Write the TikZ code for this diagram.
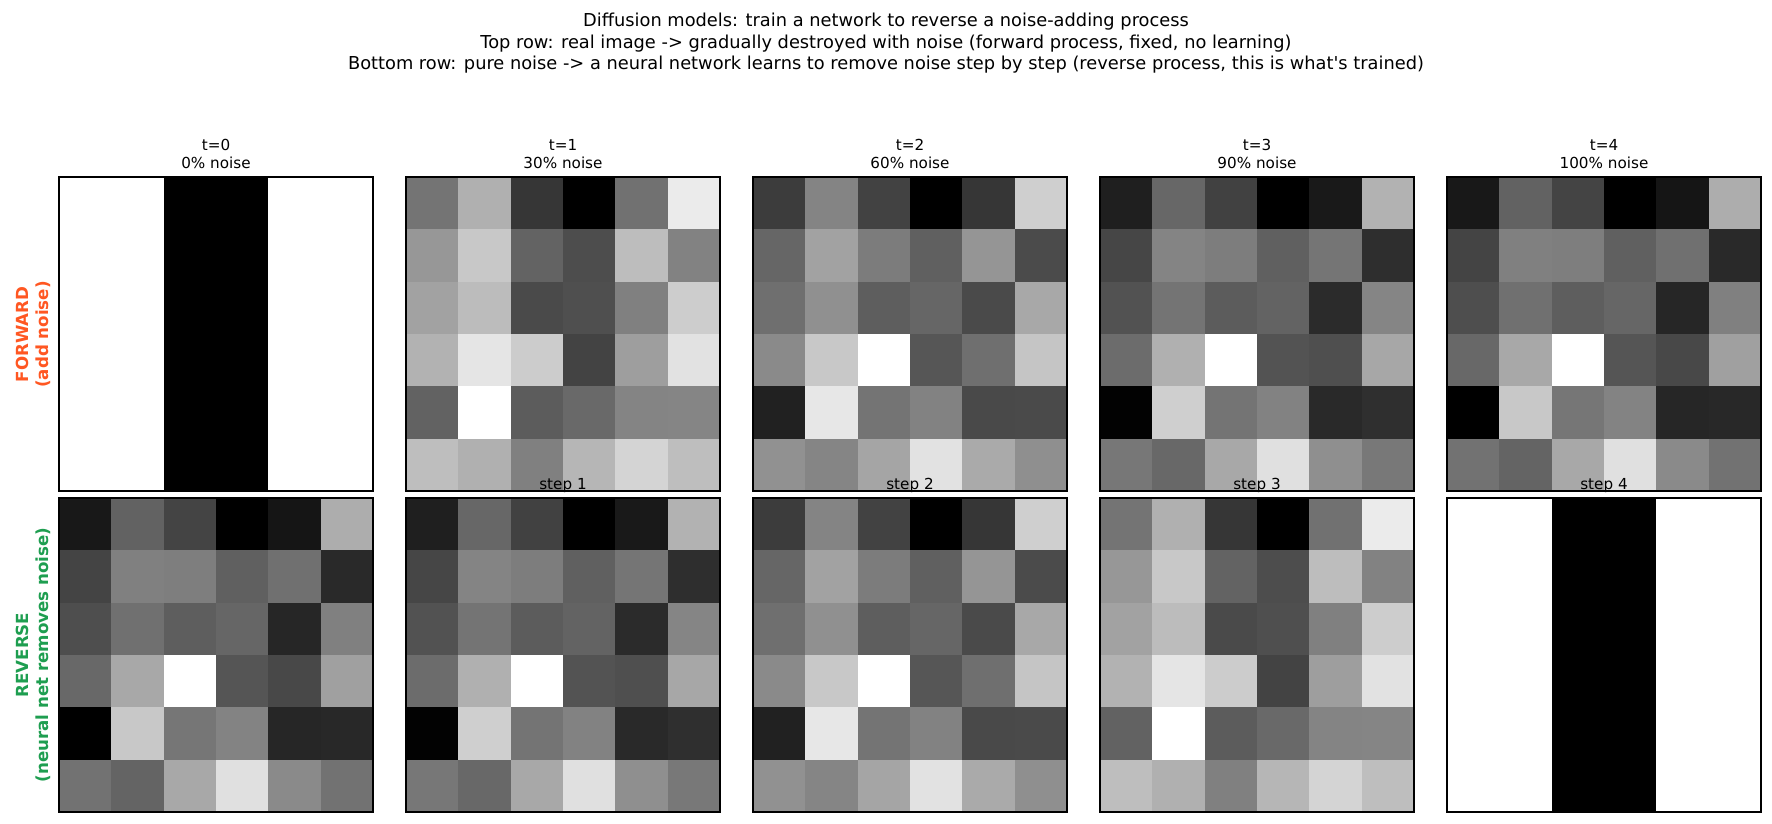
\documentclass[tikz,border=0pt]{standalone}
\usepackage{fontspec}
\setmainfont{DejaVu Sans}
\definecolor{fwd}{HTML}{FF5722}
\definecolor{rev}{HTML}{1E9E50}
\tikzset{
  frame/.style={draw=black, line width=1.1pt},
  suptitle/.style={font=\fontsize{17.8}{21.4}\selectfont, inner sep=0, anchor=base},
  ptitle/.style={font=\fontsize{15.2}{18.2}\selectfont, inner sep=0, align=center},
  rowlabel/.style={font=\fontsize{16.67}{20}\selectfont\bfseries, inner sep=0, align=center, rotate=90},
}
\newcommand\gridpanel[3]{%
  \foreach \v [count=\i from 0] in #3 {%
    \pgfmathtruncatemacro\cc{mod(\i,6)}%
    \pgfmathtruncatemacro\rr{div(\i,6)}%
    \fill[fill={rgb,255:red,\v;green,\v;blue,\v}] ({#1+\cc*52.3333},{#2+\rr*52.3333}) rectangle ++(52.9,52.9);
  }%
  \draw[frame] (#1,#2) rectangle ++(314,314);
}
\newcommand\cleanpanel[2]{%
  \fill[white] (#1,#2) rectangle ++(314,314);
  \fill[black] ({#1+104.667},#2) rectangle ++(104.667,314);
  \draw[frame] (#1,#2) rectangle ++(314,314);
}
\def\gA{116,176,54,0,113,235,151,200,99,77,189,130,162,188,74,79,128,205,178,229,204,67,158,226,98,255,92,105,132,133,190,176,128,182,212,190}
\def\gB{60,132,66,0,54,207,102,162,124,96,149,75,111,144,94,102,74,168,138,200,255,86,111,197,33,231,116,130,73,74,145,133,165,226,170,143}
\def\gC{31,103,65,0,25,178,70,132,125,96,117,46,82,116,92,99,43,133,108,176,255,83,79,167,2,207,116,130,41,47,119,104,168,224,143,120}
\def\gD{24,98,68,0,21,173,68,128,126,96,112,41,78,112,94,102,38,128,104,168,255,85,72,160,0,200,118,131,38,40,114,100,168,224,138,114}
\begin{document}
\begin{tikzpicture}[x=1pt,y=-1pt]
\useasboundingbox (0,0) rectangle (1772,824);
\fill[white] (0,0) rectangle (1772,824);
% super title
\node[suptitle] (sup1) at (886,27) {Diffusion models: train a network to reverse a noise-adding process};
\node[suptitle] (sup2) at (886,48.4) {Top row: real image -> gradually destroyed with noise (forward process, fixed, no learning)};
\node[suptitle] (sup3) at (886,69.8) {Bottom row: pure noise -> a neural network learns to remove noise step by step (reverse process, this is what\textquotesingle s trained)};
% top row
\cleanpanel{59}{177}
\gridpanel{406}{177}{\gA}
\gridpanel{753}{177}{\gB}
\gridpanel{1100}{177}{\gC}
\gridpanel{1447}{177}{\gD}
% bottom row
\gridpanel{59}{498}{\gD}
\gridpanel{406}{498}{\gC}
\gridpanel{753}{498}{\gB}
\gridpanel{1100}{498}{\gA}
\cleanpanel{1447}{498}
% panel titles
\node[ptitle, anchor=south] (tt0) at (216,169) {t=0\\0\% noise};
\node[ptitle, anchor=south] (tt1) at (563,169) {t=1\\30\% noise};
\node[ptitle, anchor=south] (tt2) at (910,169) {t=2\\60\% noise};
\node[ptitle, anchor=south] (tt3) at (1257,169) {t=3\\90\% noise};
\node[ptitle, anchor=south] (tt4) at (1604,169) {t=4\\100\% noise};
\node[ptitle, anchor=base] (st1) at (563,489.7) {step 1};
\node[ptitle, anchor=base] (st2) at (910,489.7) {step 2};
\node[ptitle, anchor=base] (st3) at (1257,489.7) {step 3};
\node[ptitle, anchor=base] (st4) at (1604,489.7) {step 4};
% row labels
\node[rowlabel, text=fwd] (fwdlab) at (33,334.5) {FORWARD\\(add noise)};
\node[rowlabel, text=rev] (revlab) at (33,655) {REVERSE\\(neural net removes noise)};
\end{tikzpicture}
\end{document}
